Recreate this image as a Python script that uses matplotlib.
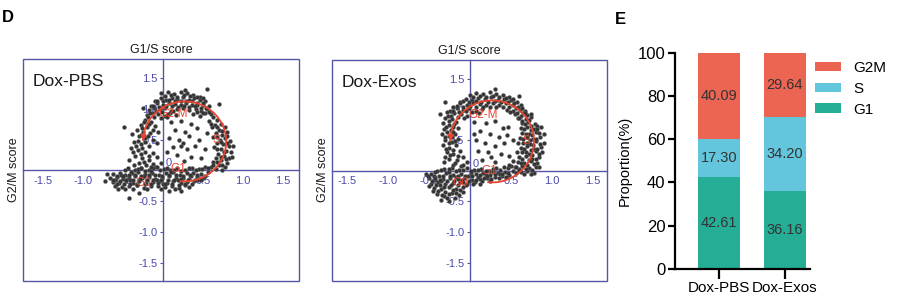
import numpy as np
import matplotlib
matplotlib.use("Agg")
import matplotlib.pyplot as plt
from matplotlib.patches import Arc, Rectangle

plt.rcParams['font.family'] = ['Liberation Sans', 'DejaVu Sans']

# ---------------- data ----------------
# Dox-PBS scatter (G1/S score, G2/M score)
pbs_points = [
    # bottom band (G0/G1)
    (-0.44,0.03),(-0.35,0.00),(-0.27,0.04),(-0.17,0.01),(-0.09,0.05),(0.01,0.02),(0.09,0.00),(0.18,0.03),(0.27,0.01),(0.36,0.04),(0.45,0.02),(0.53,0.05),
    (-0.62,-0.06),(-0.54,-0.04),(-0.47,-0.07),(-0.39,-0.05),(-0.31,-0.03),(-0.22,-0.06),(-0.14,-0.04),(-0.05,-0.08),(0.04,-0.05),(0.12,-0.03),(0.21,-0.07),(0.30,-0.05),(0.38,-0.04),(0.47,-0.06),(0.56,-0.03),
    (-0.66,-0.13),(-0.58,-0.11),(-0.50,-0.14),(-0.43,-0.12),(-0.35,-0.10),(-0.26,-0.13),(-0.18,-0.11),(-0.10,-0.14),(-0.01,-0.12),(0.08,-0.10),(0.16,-0.13),(0.25,-0.12),(0.33,-0.14),(0.42,-0.11),(0.50,-0.13),
    (-0.63,-0.19),(-0.55,-0.21),(-0.46,-0.18),(-0.38,-0.20),(-0.30,-0.17),(-0.21,-0.21),(-0.13,-0.19),(-0.04,-0.18),(0.05,-0.20),(0.13,-0.17),(0.22,-0.21),(0.30,-0.19),(0.39,-0.18),
    (-0.60,-0.25),(-0.51,-0.27),(-0.42,-0.26),(-0.33,-0.24),(-0.24,-0.28),(-0.15,-0.26),(-0.06,-0.25),(0.03,-0.27),(0.11,-0.26),(0.20,-0.28),(0.28,-0.24),
    (-0.60,-0.15),(-0.52,-0.08),(-0.41,-0.16),(-0.33,-0.22),(-0.24,-0.09),(-0.08,-0.16),(0.00,-0.23),(0.10,-0.02),(0.19,-0.16),(0.35,-0.10),(0.44,-0.16),(-0.15,-0.01),
    (-0.43,-0.45),(-0.30,-0.37),(0.07,-0.33),(0.22,-0.34),(-0.56,-0.31),(-0.70,-0.06),(-0.72,-0.17),
    (-0.48,0.00),(-0.40,-0.02),(-0.31,0.02),(-0.22,-0.01),(-0.13,0.03),(-0.04,0.00),(0.05,0.04),(0.14,0.01),(0.23,-0.01),(0.32,0.03),(0.41,0.00),(0.49,0.02),
    (-0.58,-0.09),(-0.50,-0.10),(-0.43,-0.08),(-0.35,-0.07),(-0.27,-0.09),(-0.18,-0.08),(-0.10,-0.07),(-0.01,-0.09),(0.08,-0.07),(0.16,-0.08),(0.25,-0.09),(0.34,-0.07),(0.43,-0.08),(0.52,-0.09),
    (-0.62,-0.16),(-0.54,-0.17),(-0.46,-0.15),(-0.37,-0.16),(-0.29,-0.14),(-0.20,-0.15),(-0.12,-0.16),(-0.03,-0.15),(0.06,-0.16),(0.14,-0.15),(0.23,-0.14),(0.31,-0.16),(0.40,-0.15),(0.48,-0.16),
    (-0.58,-0.22),(-0.49,-0.23),(-0.41,-0.22),(-0.32,-0.24),(-0.23,-0.23),(-0.15,-0.22),(-0.06,-0.21),(0.03,-0.23),(0.11,-0.22),(0.20,-0.24),(0.28,-0.22),(0.36,-0.22),
    (-0.47,-0.30),(-0.37,-0.30),(-0.20,-0.31),(-0.02,-0.30),(0.15,-0.30),(0.33,-0.27),
    # top band (G2-M)
    (-0.02,1.25),(0.06,1.27),(0.14,1.24),(0.22,1.28),(0.30,1.25),(0.38,1.23),(0.46,1.20),
    (-0.10,1.12),(-0.03,1.17),(0.04,1.15),(0.11,1.18),(0.18,1.16),(0.25,1.19),(0.32,1.15),(0.39,1.17),(0.46,1.14),(0.53,1.12),
    (-0.15,1.05),(-0.08,1.09),(0.00,1.07),(0.07,1.10),(0.15,1.08),(0.22,1.06),(0.29,1.09),(0.36,1.07),(0.43,1.10),(0.50,1.06),(0.57,1.04),
    (-0.18,0.98),(-0.11,1.01),(-0.04,0.99),(0.03,1.02),(0.10,0.97),(0.17,1.00),(0.25,1.01),(0.33,0.98),(0.41,1.00),(0.48,0.97),(0.55,0.99),
    (-0.20,0.90),(-0.13,0.93),(-0.06,0.91),(0.02,0.89),(0.09,0.94),(0.16,0.90),(0.38,0.92),(0.46,0.89),(0.53,0.93),(0.60,0.91),
    (0.55,1.32),(0.70,1.08),(-0.25,1.02),(0.28,1.30),
    (0.02,1.21),(0.10,1.22),(0.18,1.20),(0.26,1.23),(0.34,1.21),(0.42,1.19),(0.50,1.17),
    (-0.07,1.13),(0.00,1.12),(0.08,1.14),(0.15,1.12),(0.22,1.13),(0.29,1.12),(0.36,1.12),(0.43,1.06),(0.50,1.10),
    (-0.12,1.04),(-0.05,1.03),(0.04,1.05),(0.11,1.04),(0.19,1.03),(0.26,1.04),(0.33,1.03),(0.40,1.04),(0.47,1.02),(0.54,1.02),
    (-0.16,0.94),(-0.09,0.96),(-0.01,0.95),(0.06,0.92),(0.13,0.96),(0.42,0.95),(0.50,0.94),(0.57,0.95),
    (-0.19,0.86),(-0.11,0.86),(-0.03,0.85),(0.05,0.86),
    # right side (S)
    (0.62,0.86),(0.68,0.82),(0.58,0.80),(0.65,0.74),(0.72,0.76),(0.61,0.70),(0.70,0.66),(0.77,0.70),(0.66,0.60),(0.74,0.58),(0.80,0.62),(0.63,0.54),
    (0.71,0.50),(0.78,0.52),(0.84,0.48),(0.68,0.44),(0.75,0.42),(0.82,0.40),(0.64,0.38),(0.72,0.34),(0.79,0.32),(0.85,0.30),(0.69,0.27),(0.76,0.24),
    (0.82,0.20),(0.66,0.20),(0.73,0.16),(0.80,0.12),(0.62,0.13),(0.70,0.08),(0.77,0.05),(0.60,0.06),(0.66,0.02),(0.74,0.00),(0.86,0.22),(0.88,0.40),
    (0.60,0.76),(0.67,0.70),(0.74,0.64),(0.68,0.54),(0.80,0.56),(0.73,0.46),(0.80,0.45),(0.68,0.34),(0.76,0.30),(0.72,0.22),(0.79,0.18),(0.68,0.13),
    (0.74,0.09),(0.63,0.09),(0.56,0.03),
    # left side
    (-0.22,0.82),(-0.15,0.78),(-0.28,0.74),(-0.20,0.70),(-0.10,0.72),(-0.33,0.66),(-0.25,0.62),(-0.16,0.60),(-0.30,0.55),(-0.22,0.52),(-0.12,0.50),
    (-0.36,0.46),(-0.27,0.43),(-0.18,0.40),(-0.08,0.44),(-0.40,0.36),(-0.31,0.33),(-0.22,0.30),(-0.13,0.28),(-0.35,0.24),(-0.26,0.20),(-0.17,0.17),
    (-0.08,0.22),(-0.30,0.12),(-0.21,0.08),(-0.12,0.10),(-0.03,0.12),(-0.43,0.16),(-0.49,0.70),(-0.06,0.62),(-0.39,0.59),
    (-0.24,0.78),(-0.18,0.75),(-0.26,0.68),(-0.13,0.66),(-0.27,0.57),(-0.19,0.56),(-0.31,0.48),(-0.23,0.46),(-0.34,0.40),(-0.26,0.37),(-0.28,0.27),
    (-0.38,0.30),(-0.18,0.23),(-0.24,0.14),(-0.36,0.08),(-0.15,0.05),(-0.28,0.03),(-0.08,0.05),
    # interior
    (0.10,0.78),(0.22,0.80),(0.35,0.75),(0.15,0.65),(0.28,0.62),(0.42,0.68),(0.08,0.52),(0.20,0.50),(0.25,0.45),(0.33,0.55),(0.45,0.50),
    (0.12,0.38),(0.30,0.35),(0.40,0.40),(0.52,0.35),(0.18,0.25),(0.35,0.22),(0.48,0.20),(0.05,0.30),(0.26,0.15),(0.55,0.60),(0.22,0.40),
]

# Dox-Exos scatter
exos_points = [
    # bottom band
    (-0.40,0.00),(-0.31,0.03),(-0.22,0.05),(-0.13,0.02),(-0.04,0.04),(0.05,0.01),(0.14,0.03),(0.23,0.00),(0.32,0.05),(0.41,0.06),(0.50,0.08),
    (-0.47,-0.05),(-0.38,-0.08),(-0.29,-0.04),(-0.20,-0.07),(-0.11,-0.05),(-0.02,-0.08),(0.07,-0.06),(0.16,-0.04),(0.25,-0.07),(0.34,-0.03),(0.43,-0.02),(0.52,0.00),(0.60,0.03),
    (-0.50,-0.12),(-0.42,-0.15),(-0.33,-0.13),(-0.24,-0.11),(-0.15,-0.14),(-0.06,-0.12),(0.03,-0.15),(0.12,-0.13),(0.21,-0.11),(0.30,-0.10),(0.39,-0.09),(0.48,-0.07),
    (-0.48,-0.21),(-0.39,-0.19),(-0.30,-0.22),(-0.21,-0.20),(-0.12,-0.18),(-0.03,-0.21),(0.06,-0.19),(0.15,-0.17),(0.24,-0.16),
    (-0.44,-0.28),(-0.35,-0.30),(-0.26,-0.27),(-0.17,-0.29),(-0.08,-0.26),
    (-0.40,-0.38),(-0.31,-0.41),(-0.22,-0.36),(-0.13,-0.40),(-0.35,-0.47),(-0.25,-0.50),(-0.18,-0.45),(-0.45,-0.33),(-0.08,-0.35),(-0.28,-0.44),
    (-0.44,-0.09),(-0.35,-0.17),(-0.26,-0.02),(-0.17,-0.10),(-0.08,-0.18),(0.01,-0.03),(0.10,-0.10),(0.19,-0.07),(0.28,-0.02),(0.37,-0.05),(-0.53,-0.05),(-0.36,-0.24),
    (-0.43,-0.02),(-0.35,0.01),(-0.26,0.03),(-0.17,0.00),(-0.08,0.02),(0.01,0.00),(0.10,0.02),(0.19,-0.01),(0.28,0.03),(0.37,0.02),(0.46,0.04),(0.55,0.06),
    (-0.51,-0.09),(-0.42,-0.11),(-0.33,-0.09),(-0.24,-0.08),(-0.15,-0.09),(-0.06,-0.09),(0.03,-0.08),(0.12,-0.07),(0.21,-0.09),(0.30,-0.06),(0.39,-0.05),(0.47,-0.03),(0.56,-0.03),
    (-0.46,-0.17),(-0.37,-0.15),(-0.28,-0.17),(-0.19,-0.16),(-0.10,-0.15),(-0.01,-0.17),(0.08,-0.15),(0.17,-0.12),(0.26,-0.13),(0.35,-0.12),(0.44,-0.10),
    (-0.50,-0.25),(-0.41,-0.24),(-0.32,-0.26),(-0.23,-0.24),(-0.14,-0.23),(-0.05,-0.23),(0.04,-0.22),(0.12,-0.21),
    (-0.39,-0.33),(-0.30,-0.34),(-0.21,-0.32),(-0.12,-0.31),(-0.34,-0.39),(-0.26,-0.38),(-0.17,-0.37),
    # top band
    (0.00,1.24),(0.08,1.27),(0.16,1.25),(0.24,1.29),(0.32,1.26),(0.40,1.24),(0.48,1.21),
    (-0.12,1.13),(-0.05,1.18),(0.03,1.16),(0.10,1.19),(0.18,1.17),(0.26,1.20),(0.34,1.16),(0.42,1.18),(0.50,1.15),(0.57,1.12),
    (-0.20,1.05),(-0.12,1.10),(-0.04,1.08),(0.04,1.11),(0.12,1.09),(0.20,1.07),(0.28,1.10),(0.36,1.08),(0.44,1.11),(0.52,1.07),(0.59,1.05),
    (-0.24,0.97),(-0.16,1.02),(-0.09,1.00),(-0.01,1.03),(0.07,0.98),(0.15,1.01),(0.45,1.00),(0.53,0.98),(0.61,1.00),(0.67,0.97),
    (-0.27,0.90),(-0.19,0.94),(-0.11,0.92),(-0.03,0.90),(0.55,0.92),(0.62,0.89),(0.69,0.91),
    (-0.30,1.12),(0.30,1.33),(0.60,1.22),
    (0.04,1.21),(0.12,1.22),(0.20,1.21),(0.28,1.23),(0.36,1.21),(0.44,1.19),(0.52,1.17),
    (-0.09,1.14),(-0.01,1.12),(0.07,1.14),(0.14,1.12),(0.22,1.13),(0.30,1.14),(0.38,1.12),(0.46,1.13),(0.54,1.10),(0.62,1.08),
    (-0.16,1.06),(-0.08,1.04),(0.00,1.06),(0.08,1.04),(0.16,1.05),(0.24,1.04),(0.32,1.05),(0.40,1.04),(0.48,1.05),(0.56,1.02),(0.64,1.02),
    (-0.21,0.97),(-0.13,0.96),(-0.05,0.97),(0.03,0.96),(0.11,0.95),(0.49,0.96),(0.57,0.94),(0.65,0.94),
    (-0.23,0.90),(-0.15,0.88),(-0.07,0.87),(0.59,0.87),
    # right band
    (0.60,0.86),(0.68,0.84),(0.75,0.88),(0.63,0.78),(0.71,0.80),(0.79,0.76),
    (0.62,0.70),(0.70,0.72),(0.78,0.68),(0.86,0.71),(0.64,0.62),(0.72,0.60),(0.80,0.64),
    (0.61,0.54),(0.69,0.56),(0.77,0.52),(0.85,0.55),(0.65,0.46),(0.73,0.44),(0.81,0.48),
    (0.62,0.38),(0.70,0.40),(0.78,0.36),(0.86,0.39),(0.64,0.30),(0.72,0.28),(0.80,0.32),
    (0.60,0.22),(0.68,0.24),(0.76,0.20),(0.84,0.23),(0.58,0.14),(0.66,0.12),(0.74,0.16),(0.82,0.13),
    (0.56,0.06),(0.64,0.08),(0.72,0.05),(0.80,0.07),(0.62,-0.02),(0.70,0.00),(0.78,-0.04),
    (0.90,0.60),(0.88,0.30),(0.84,0.06),(0.58,0.46),(0.57,0.30),(0.52,0.16),(0.48,0.10),(0.90,0.45),(0.74,0.92),(0.67,0.95),
    (0.64,0.82),(0.72,0.83),(0.67,0.76),(0.75,0.74),(0.82,0.74),(0.66,0.68),(0.74,0.66),(0.82,0.68),(0.68,0.60),(0.76,0.58),(0.84,0.61),
    (0.65,0.52),(0.73,0.50),(0.81,0.52),(0.69,0.46),(0.77,0.42),(0.85,0.44),(0.66,0.36),(0.74,0.34),(0.82,0.36),(0.68,0.30),(0.76,0.26),
    (0.84,0.28),(0.64,0.20),(0.72,0.18),(0.80,0.20),(0.62,0.12),(0.70,0.10),(0.78,0.11),(0.60,0.02),(0.68,0.03),(0.76,0.02),(0.66,-0.05),(0.74,-0.06),
    # left side
    (-0.30,0.86),(-0.22,0.84),(-0.33,0.78),(-0.25,0.75),(-0.17,0.80),(-0.31,0.68),(-0.23,0.66),(-0.15,0.70),(-0.34,0.60),(-0.26,0.57),
    (-0.18,0.60),(-0.30,0.50),(-0.22,0.47),(-0.14,0.52),(-0.33,0.42),(-0.25,0.38),(-0.17,0.42),(-0.28,0.30),(-0.20,0.27),(-0.12,0.32),
    (-0.25,0.20),(-0.16,0.17),(-0.08,0.22),(-0.20,0.10),(-0.11,0.08),(-0.03,0.14),(-0.36,0.92),(-0.28,0.96),
    (-0.26,0.82),(-0.19,0.77),(-0.29,0.72),(-0.21,0.71),(-0.28,0.63),(-0.20,0.64),(-0.30,0.56),(-0.22,0.55),(-0.26,0.46),(-0.18,0.48),
    (-0.29,0.36),(-0.21,0.34),(-0.24,0.26),(-0.30,0.22),(-0.14,0.24),(-0.18,0.13),(-0.32,0.14),(-0.08,0.10),
    # interior
    (0.05,0.80),(0.20,0.78),(0.30,0.82),(0.40,0.70),(0.12,0.65),(0.25,0.60),(0.35,0.55),(0.45,0.58),(0.08,0.50),(0.18,0.45),(0.30,0.40),
    (0.42,0.45),(0.52,0.50),(0.10,0.32),(0.22,0.30),(0.38,0.28),(0.48,0.25),(0.15,0.18),(0.30,0.15),(0.05,0.60),(0.47,0.72),(0.26,0.22),
]

scatter_titles = ["Dox-PBS", "Dox-Exos"]
axis_ticks = [-1.5, -1.0, -0.5, 0.5, 1.0, 1.5]

# cell-cycle phase labels (x, y) per panel
phase_names = ["G2-M", "S", "G1", "G0"]
pbs_phase_pos = [(0.125, 0.91), (0.67, 0.50), (0.19, 0.02), (-0.25, -0.20)]
exos_phase_pos = [(0.16, 0.91), (0.69, 0.49), (0.24, 0.00), (-0.12, -0.20)]

# stacked bars
groups = ["Dox-PBS", "Dox-Exos"]
phases = ["G1", "S", "G2M"]
g1_vals = [42.61, 36.16]
s_vals = [17.30, 34.20]
g2m_vals = [40.09, 29.64]

# ---------------- style ----------------
BLUE = "#5656a8"
TICKBLUE = "#4a4ab0"
RED = "#e8452e"
PT = "#333333"
bar_colors = {"G1": "#26ad96", "S": "#64c6dd", "G2M": "#ec6452"}

fig = plt.figure(figsize=(9.15, 3.07), dpi=100)
W, H = 915, 307

def fax(x0, y0, x1, y1):
    return fig.add_axes([x0 / W, (H - y1) / H, (x1 - x0) / W, (y1 - y0) / H])

panels = [
    dict(box=(23, 59, 299, 281), xlim=(-1.75, 1.70), pts=pbs_points, ph=pbs_phase_pos,
         arc=(0.27, 0.47, 1.04, 1.30)),
    dict(box=(332, 60, 607, 281), xlim=(-1.68, 1.67), pts=exos_points, ph=exos_phase_pos,
         arc=(0.27, 0.48, 1.02, 1.34)),
]

for i, p in enumerate(panels):
    x0, y0, x1, y1 = p["box"]
    ax = fax(x0, y0, x1, y1)
    ax.set_xlim(*p["xlim"])
    ax.set_ylim(-1.8, 1.81)
    for s in ["top", "right"]:
        ax.spines[s].set_visible(False)
    ax.spines["left"].set_position(("data", 0))
    ax.spines["bottom"].set_position(("data", 0))
    for s in ["left", "bottom"]:
        ax.spines[s].set_color(BLUE)
        ax.spines[s].set_linewidth(1.0)
    ax.add_patch(Rectangle((0, 0), 1, 1, transform=ax.transAxes, fill=False,
                           edgecolor=BLUE, linewidth=1.0, clip_on=False, zorder=5))
    ax.set_xticks(axis_ticks)
    ax.set_yticks(axis_ticks)
    ax.set_xticklabels([f"{t:.1f}" for t in axis_ticks])
    ax.set_yticklabels([f"{t:.1f}" for t in axis_ticks])
    ax.tick_params(axis="both", colors=BLUE, labelcolor=TICKBLUE, labelsize=8,
                   length=2.5, width=0.8, pad=1.5)
    ax.tick_params(axis="x", length=0, pad=4)
    ax.text(0.03, 0.03, "0", color=TICKBLUE, fontsize=8, ha="left", va="bottom")

    xs = [q[0] for q in p["pts"]]
    ys = [q[1] for q in p["pts"]]
    ax.scatter(xs, ys, s=8, c=PT, edgecolors="#666666", linewidths=0.3, zorder=3)

    cx, cy, w, h = p["arc"]
    ax.add_patch(Arc((cx, cy), w, h, theta1=-95, theta2=178, color=RED, lw=1.3, zorder=4))
    ax.annotate("", xy=(cx - w / 2, cy - 0.04), xytext=(cx - w / 2 + 0.005, cy + 0.06),
                arrowprops=dict(arrowstyle="-|>", color=RED, lw=1.2, mutation_scale=8),
                zorder=4)
    for name, (px, py) in zip(phase_names, p["ph"]):
        ax.text(px, py, name, color=RED, fontsize=8.5, ha="center", va="center", zorder=5)

    ax.text(0.035, 0.9, scatter_titles[i], transform=ax.transAxes, fontsize=12.5,
            ha="left", va="center", color="#1a1a1a")
    ax.set_title("G1/S score", fontsize=9, pad=4, color="#1a1a1a")
    fig.text((x0 - 9) / W, 1 - 170 / H, "G2/M score", rotation=90, fontsize=9,
             ha="center", va="center", color="#1a1a1a")

fig.text(2 / W, 1 - 18 / H, "D", fontsize=12, fontweight="bold", ha="left", va="center")
fig.text(615 / W, 1 - 19 / H, "E", fontsize=12, fontweight="bold", ha="left", va="center")

# ---------------- stacked bars ----------------
bx = fax(675, 52.7, 810, 269)
xpos = np.arange(len(groups))
bw = 0.65
bottom = np.zeros(len(groups))
seg = {"G1": g1_vals, "S": s_vals, "G2M": g2m_vals}
handles = {}
for ph in phases:
    vals = np.array(seg[ph])
    b = bx.bar(xpos, vals, bw, bottom=bottom, color=bar_colors[ph], label=ph)
    handles[ph] = b
    for xx, bt, v in zip(xpos, bottom, vals):
        bx.text(xx, bt + v / 2, f"{v:.2f}", ha="center", va="center", fontsize=10.5,
                color="#333333")
    bottom += vals

bx.set_xlim(-0.667, 1.38)
bx.set_ylim(0, 100)
bx.set_yticks([0, 20, 40, 60, 80, 100])
bx.set_xticks(xpos)
bx.set_xticklabels(groups)
for s in ["top", "right"]:
    bx.spines[s].set_visible(False)
for s in ["left", "bottom"]:
    bx.spines[s].set_linewidth(1.6)
bx.tick_params(axis="y", labelsize=12, length=5, width=1.6, pad=2)
bx.tick_params(axis="x", labelsize=11, length=7, width=1.6, pad=2)
bx.set_ylabel("Proportion(%)", fontsize=10.5, labelpad=4)
leg = bx.legend([handles["G2M"], handles["S"], handles["G1"]], ["G2M", "S", "G1"],
                loc="upper left", bbox_to_anchor=(0.99, 0.99), frameon=False,
                fontsize=11, handlelength=1.7, handleheight=0.6, labelspacing=0.45,
                handletextpad=0.8, borderaxespad=0)

fig.savefig("out.png", dpi=100)
